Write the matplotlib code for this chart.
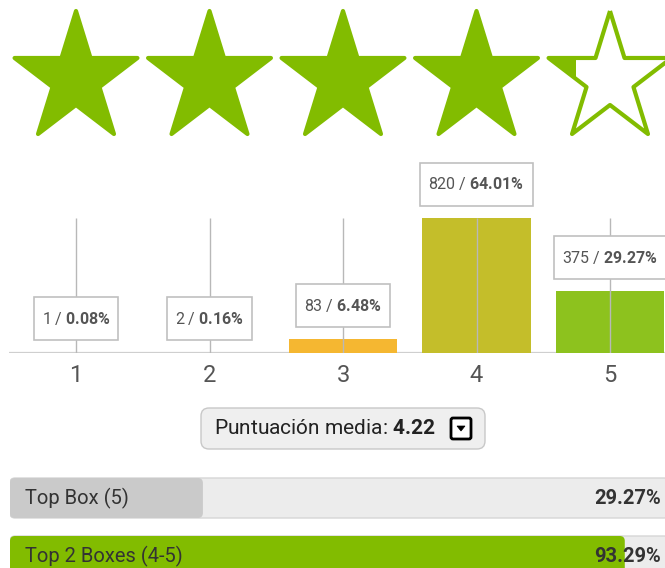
import numpy as np
import matplotlib
matplotlib.use('Agg')
import matplotlib.pyplot as plt
from matplotlib.patches import Polygon, Rectangle, FancyBboxPatch
from matplotlib.transforms import IdentityTransform

plt.rcParams['font.family'] = ['Roboto', 'DejaVu Sans']
plt.rcParams['mathtext.fontset'] = 'custom'
plt.rcParams['mathtext.rm'] = 'Roboto'
plt.rcParams['mathtext.bf'] = 'Roboto:bold'

# ---------------- data ----------------
ratings = [1, 2, 3, 4, 5]
counts = [1, 2, 83, 820, 375]
percents = [0.08, 0.16, 6.48, 64.01, 29.27]
bar_colors = ['#F5B731', '#F5B731', '#F5B731', '#C4BE2A', '#8DC21E']
mean_score = 4.22
mean_label = 'Puntuación media:'
box_labels = ['Top Box (5)', 'Top 2 Boxes (4-5)']
box_values = [29.27, 93.29]
box_colors = ['#CACACA', '#82BC00']
star_color = '#82BC00'

W, H = 665, 568
fig = plt.figure(figsize=(W / 100, H / 100), dpi=100)


def ax_px(left, top, width, height, **kw):
    return fig.add_axes([left / W, 1 - (top + height) / H, width / W, height / H], **kw)


unit = 133.5
x0_px = 76 - 0.5 * unit

# ---------------- stars ----------------
sax = ax_px(x0_px, 0, 5 * unit, 160)
sax.set_xlim(0.5, 5.5)
sax.set_ylim(160, 0)
sax.axis('off')
Rx = 64.6 / unit
Ry = 68.0
cy = 79
ang = np.pi / 2 + np.arange(10) * np.pi / 5
rad = np.where(np.arange(10) % 2 == 0, 1.0, 0.382)
for i, r in enumerate(ratings):
    xs = r + Rx * rad * np.cos(ang)
    ys = cy - Ry * rad * np.sin(ang)
    verts = np.column_stack([xs, ys])
    frac = float(np.clip(mean_score - i, 0, 1))
    if frac > 0:
        fillp = Polygon(verts, closed=True, fc=star_color, ec='none')
        sax.add_patch(fillp)
        left = r - Rx * np.sin(2 * np.pi / 5)
        wid = frac * 2 * Rx * np.sin(2 * np.pi / 5)
        clip = Rectangle((left, 0), wid, 160, transform=sax.transData)
        fillp.set_clip_path(clip)
    sax.add_patch(Polygon(verts, closed=True, fill=False, ec=star_color,
                          lw=3.0, joinstyle='round'))

# ---------------- bar chart ----------------
scale = 135 / 64.01
bax = ax_px(x0_px, 163, 5 * unit, 190)
bax.set_xlim(0.5, 5.5)
bax.set_ylim(0, 190 / scale)
bax.bar(ratings, percents, width=0.81, color=bar_colors, zorder=2)
bax.vlines(ratings, 0, max(percents), color='#b8b8b8', lw=1, zorder=3)
bax.axhline(0, color='#cfcfcf', lw=1.6, zorder=1)
for s in bax.spines.values():
    s.set_visible(False)
bax.set_yticks([])
bax.set_xticks(ratings)
bax.set_xticklabels([str(r) for r in ratings], fontsize=17, color='#555555')
bax.tick_params(axis='x', length=0, pad=8)
label_texts = []
for r, c, p in zip(ratings, counts, percents):
    t = bax.annotate(f"{c} / $\\mathbf{{{p:.2f}\\%}}$", xy=(r, p), xytext=(0, 34),
                     textcoords='offset pixels', ha='center', va='center',
                     fontsize=11.5, color='#555555', zorder=6, annotation_clip=False)
    label_texts.append((t, r, p))

fig.canvas.draw()
renderer = fig.canvas.get_renderer()
for t, r, p in label_texts:
    ext = t.get_window_extent(renderer)
    cxp, cyp = bax.transData.transform((r, p))
    cyp += 34
    bw = ext.width + 16
    bh = 43
    box = Rectangle((cxp - bw / 2, cyp - bh / 2), bw, bh, transform=IdentityTransform(),
                    fc='white', ec='#c0c0c0', lw=1.2, zorder=5, clip_on=False)
    bax.add_artist(box)

# ---------------- mean button ----------------
ov = fig.add_axes([0, 0, 1, 1], zorder=-1)
ov.set_xlim(0, W)
ov.set_ylim(H, 0)
ov.axis('off')
ov.add_patch(FancyBboxPatch((201, 408), 284, 41, boxstyle='round,pad=0,rounding_size=8',
                            fc='#efefef', ec='#c8c8c8', lw=1))
ov.text(214, 429, f"{mean_label} $\\mathbf{{{mean_score:.2f}}}$", ha='left', va='center',
        fontsize=15, color='#222222')
ov.add_patch(FancyBboxPatch((451, 418), 20, 21, boxstyle='round,pad=0,rounding_size=2',
                            fc='white', ec='black', lw=2))
ov.add_patch(Polygon([(457, 426), (465, 426), (461, 431)], closed=True, fc='black', ec='black', lw=0.5))

# ---------------- top boxes ----------------
pax = ax_px(10, 470, 659, 100)
pax.set_xlim(0, 100)
pax.set_ylim(100, 0)
pax.axis('off')
xu = 100 / 659
tops = [8, 66]
for t, lab, v, col in zip(tops, box_labels, box_values, box_colors):
    pax.add_patch(FancyBboxPatch((0, t), 100, 40, boxstyle=f'round,pad=0,rounding_size={5 * xu}',
                                 mutation_aspect=1 / xu, fc='#ececec', ec='#d6d6d6', lw=1))
    pax.add_patch(FancyBboxPatch((0, t), v, 40, boxstyle=f'round,pad=0,rounding_size={5 * xu}',
                                 mutation_aspect=1 / xu, fc=col, ec='none'))
    pax.text(15 * xu, t + 20, lab, ha='left', va='center', fontsize=14.5, color='#333333')
    pax.text(651 * xu, t + 20, f"{v:.2f}%", ha='right', va='center', fontsize=14.5,
             color='#333333', fontweight='bold')

fig.savefig('out.png', dpi=100)
